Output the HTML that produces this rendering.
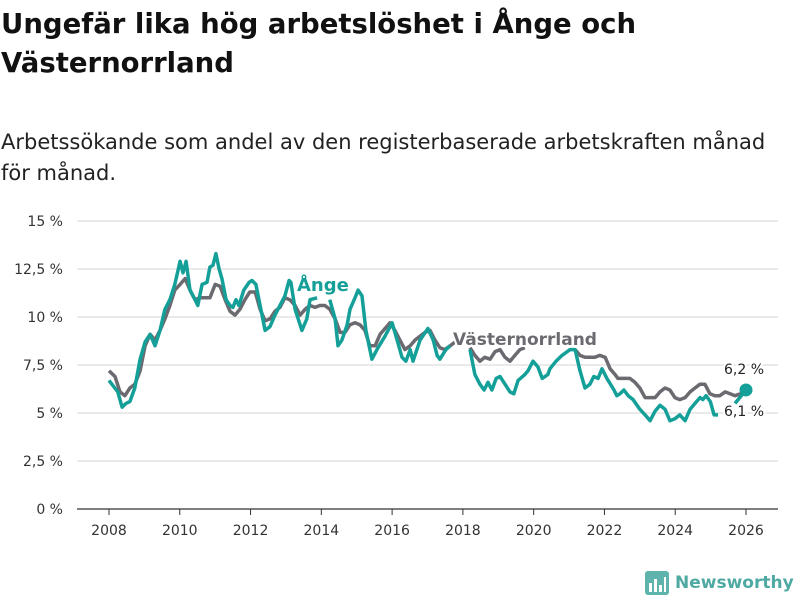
<!DOCTYPE html>
<html><head><meta charset="utf-8"><style>
body{margin:0;background:#fff;width:800px;height:600px;overflow:hidden;font-family:"DejaVu Sans","Liberation Sans",sans-serif;}
#title{position:absolute;left:1px;top:5px;font-size:27.5px;font-weight:bold;line-height:39px;color:#111;width:700px;}
#sub{position:absolute;left:1px;top:127px;font-size:21px;line-height:31px;color:#222;width:785px;}
svg{position:absolute;left:0;top:0;}
</style></head><body>
<div id="title">Ungefär lika hög arbetslöshet i Ånge och Västernorrland</div>
<div id="sub">Arbetssökande som andel av den registerbaserade arbetskraften månad<br>för månad.</div>
<svg id="chart" width="800" height="600"></svg>
<script>
const yTicks=[0,2.5,5,7.5,10,12.5,15];
const yTickLabels=["0 %","2,5 %","5 %","7,5 %","10 %","12,5 %","15 %"];
const xTicks=[2008,2010,2012,2014,2016,2018,2020,2022,2024,2026];
const angeDates=[2008.00,2008.25,2008.37,2008.48,2008.59,2008.73,2008.88,2009.02,2009.16,2009.30,2009.44,2009.58,2009.72,2009.86,2010.01,2010.09,2010.18,2010.29,2010.43,2010.51,2010.63,2010.77,2010.85,2010.94,2011.02,2011.11,2011.19,2011.31,2011.42,2011.50,2011.59,2011.67,2011.81,2011.96,2012.04,2012.15,2012.27,2012.41,2012.55,2012.69,2012.83,2012.97,2013.09,2013.14,2013.26,2013.45,2013.59,2013.68,2013.88,null,2014.24,2014.39,2014.47,2014.58,2014.73,2014.81,2014.95,2015.04,2015.15,2015.26,2015.43,2015.60,2015.80,2016.00,2016.14,2016.28,2016.39,2016.51,2016.59,2016.79,2017.01,2017.16,2017.27,2017.35,2017.52,2017.64,null,2018.20,2018.34,2018.48,2018.60,2018.71,2018.82,2018.94,2019.05,2019.19,2019.33,2019.44,2019.56,2019.75,2019.84,2019.98,2020.12,2020.24,2020.40,2020.46,2020.63,2020.80,2021.03,2021.17,2021.31,2021.45,2021.59,2021.70,2021.82,2021.93,2022.07,2022.27,2022.35,2022.44,2022.55,2022.67,2022.81,2023.00,2023.15,2023.29,2023.43,2023.57,2023.71,2023.85,2023.99,2024.13,2024.28,2024.42,2024.56,2024.70,2024.78,2024.87,2024.99,2025.10,2025.21,null,2025.69,2026.00];
const angeValues=[6.7,6.1,5.3,5.5,5.6,6.3,7.8,8.7,9.1,8.5,9.3,10.4,10.9,11.7,12.9,12.3,12.9,11.4,10.9,10.6,11.7,11.8,12.6,12.7,13.3,12.5,12.0,10.9,10.6,10.5,10.9,10.6,11.4,11.8,11.9,11.7,10.6,9.3,9.5,10.1,10.6,11.1,11.9,11.8,10.4,9.3,9.9,10.9,11.0,null,10.9,9.9,8.5,8.8,9.6,10.4,11.0,11.4,11.1,9.3,7.8,8.4,9.0,9.7,8.8,7.9,7.7,8.3,7.7,8.8,9.4,8.8,8.0,7.8,8.3,8.5,null,8.3,7.0,6.5,6.2,6.6,6.2,6.8,6.9,6.5,6.1,6.0,6.7,7.0,7.2,7.7,7.4,6.8,7.0,7.3,7.7,8.0,8.3,8.3,7.2,6.3,6.5,6.9,6.8,7.3,6.8,6.2,5.9,6.0,6.2,5.9,5.7,5.2,4.9,4.6,5.1,5.4,5.2,4.6,4.7,4.9,4.6,5.2,5.5,5.8,5.7,5.9,5.6,4.9,4.9,null,5.5,6.2];
const vnDates=[2008.00,2008.17,2008.31,2008.45,2008.59,2008.73,2008.88,2009.02,2009.16,2009.30,2009.44,2009.58,2009.72,2009.86,2010.01,2010.15,2010.29,2010.43,2010.57,2010.71,2010.85,2011.00,2011.14,2011.28,2011.42,2011.56,2011.70,2011.84,2011.98,2012.13,2012.27,2012.41,2012.55,2012.69,2012.83,2012.97,2013.11,2013.26,2013.40,2013.54,2013.68,2013.82,2013.96,2014.10,2014.24,2014.39,2014.53,2014.67,2014.81,2014.95,2015.09,2015.23,2015.37,2015.52,2015.66,2015.80,2015.94,2016.08,2016.22,2016.36,2016.51,2016.65,2016.79,2016.93,2017.07,2017.21,2017.35,2017.49,2017.64,2017.78,null,2018.20,2018.34,2018.48,2018.62,2018.77,2018.91,2019.05,2019.19,2019.33,2019.47,2019.61,2019.75,null,2021.17,2021.31,2021.45,2021.59,2021.73,2021.87,2022.02,2022.16,2022.30,2022.38,2022.50,2022.61,2022.72,2022.86,2023.00,2023.15,2023.29,2023.43,2023.57,2023.71,2023.85,2023.99,2024.13,2024.28,2024.42,2024.56,2024.70,2024.84,2024.98,2025.12,2025.26,2025.41,2025.55,2025.69,2026.00];
const vnValues=[7.2,6.9,6.1,5.9,6.3,6.5,7.2,8.5,9.1,8.8,9.3,9.9,10.6,11.4,11.7,12.0,11.4,10.9,11.0,11.0,11.0,11.7,11.6,10.9,10.3,10.1,10.4,10.9,11.3,11.3,10.4,9.8,9.9,10.3,10.5,11.0,10.9,10.6,10.1,10.4,10.6,10.5,10.6,10.6,10.4,9.9,9.2,9.2,9.6,9.7,9.6,9.3,8.5,8.5,9.1,9.4,9.7,9.3,8.8,8.3,8.5,8.8,9.0,9.2,9.3,8.8,8.4,8.3,8.5,8.7,null,8.4,8.0,7.7,7.9,7.8,8.2,8.3,7.9,7.7,8.0,8.3,8.4,null,8.3,8.0,7.9,7.9,7.9,8.0,7.9,7.3,7.0,6.8,6.8,6.8,6.8,6.6,6.3,5.8,5.8,5.8,6.1,6.3,6.2,5.8,5.7,5.8,6.1,6.3,6.5,6.5,6.0,5.9,5.9,6.1,6.0,5.9,6.1];
const NS="http://www.w3.org/2000/svg";
const FONT='DejaVu Sans, Liberation Sans, sans-serif';
const svg=document.getElementById('chart');
const X=v=>109+(v-2008)*(637/18);
const Y=v=>509-v*19.2;
function mk(t,a,p){const e=document.createElementNS(NS,t);for(const k in a)e.setAttribute(k,a[k]);(p||svg).appendChild(e);return e;}
yTicks.forEach((t,i)=>{
  const g=mk('line',{x1:77,x2:778,y1:Y(t),y2:Y(t),stroke:t===0?'#333':'#ddd','stroke-width':1.2});
  
  
  const l=mk('text',{x:63,y:Y(t)+5,'text-anchor':'end','font-size':14,fill:'#333','font-family':FONT});
  l.textContent=yTickLabels[i];
  
  
});
xTicks.forEach(t=>{
  const m=mk('line',{x1:X(t),x2:X(t),y1:509,y2:515,stroke:'#333','stroke-width':1});
  
  
  const l=mk('text',{x:X(t),y:535,'text-anchor':'middle','font-size':14,fill:'#333','font-family':FONT});
  l.textContent=t;
  
  
});
function pathD(d,v){let s='',pen=false;for(let i=0;i<d.length;i++){if(d[i]===null||v[i]===null){pen=false;continue;}s+=(pen?'L':'M')+X(d[i]).toFixed(1)+','+Y(v[i]).toFixed(1);pen=true;}return s;}
const vn=mk('path',{d:pathD(vnDates,vnValues),fill:'none',stroke:'#6b6a70','stroke-width':3.5,'stroke-linejoin':'round'});


const an=mk('path',{d:pathD(angeDates,angeValues),fill:'none',stroke:'#14a098','stroke-width':3.5,'stroke-linejoin':'round'});


const dot=mk('circle',{cx:X(angeDates[angeDates.length-1]),cy:Y(angeValues[angeValues.length-1]),r:6.5,fill:'#14a098'});


function lab(x,y,txt,fill,w,size,name){const t=mk('text',{x:x,y:y,fill:fill,'font-weight':w,'font-size':size,'font-family':FONT,stroke:'#fff','stroke-width':4,'paint-order':'stroke'});t.textContent=txt;}
lab(297,291,'Ånge','#14a098','bold',18,'ange-label');
lab(453,345,'Västernorrland','#6b6a70','bold',17,'vasternorrland-label');
lab(724,374,'6,2 %','#222','normal',14,'ange-end-value');
lab(724,416,'6,1 %','#222','normal',14,'vasternorrland-end-value');
</script>
<div style="position:absolute;left:645px;top:570px;height:26px;display:flex;align-items:center;">
 <svg width="24" height="24" style="position:static"><rect x="0" y="0" width="24" height="24" rx="3" fill="#5fb3ad"/><rect x="4" y="12" width="3" height="9" fill="#fff"/><rect x="9" y="8" width="3" height="13" fill="#fff"/><rect x="14" y="14" width="3" height="7" fill="#fff"/><rect x="19" y="6" width="2" height="15" fill="#fff"/></svg>
 <span style="margin-left:6px;font-size:17px;font-weight:bold;color:#4fa9a3;">Newsworthy</span>
</div>
</body></html>
